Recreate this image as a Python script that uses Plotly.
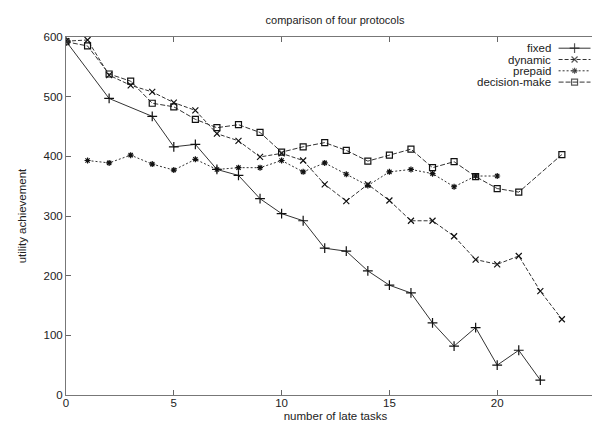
import plotly.graph_objects as go

# ---- data ----
fixed_x = [0, 2, 4, 5, 6, 7, 8, 9, 10, 11, 12, 13, 14, 15, 16, 17, 18, 19, 20, 21, 22]
fixed_y = [593, 497, 467, 416, 420, 378, 368, 329, 304, 292, 246, 241, 208, 184, 171, 121, 82, 113, 50, 75, 25]

dynamic_x = list(range(0, 24))
dynamic_y = [593, 595, 536, 519, 508, 490, 477, 438, 426, 399, 405, 393, 353, 325, 353, 326,
             292, 292, 266, 227, 219, 233, 174, 127]

prepaid_x = list(range(1, 21))
prepaid_y = [393, 389, 402, 387, 377, 395, 378, 381, 381, 393, 374, 389, 370, 351, 374, 378,
             371, 349, 367, 367]

decision_x = list(range(0, 22)) + [23]
decision_y = [592, 585, 538, 526, 489, 483, 462, 448, 453, 440, 407, 416, 423, 410, 392, 402,
              412, 381, 391, 366, 346, 340, 403]

series_names = ["fixed", "dynamic", "prepaid", "decision-make"]
x_ticks = [0, 5, 10, 15, 20, 25]
y_ticks = [0, 100, 200, 300, 400, 500, 600]

# ---- styles ----
FONT = "Liberation Sans, Arial, Helvetica, sans-serif"
FS = 11.5
TXT = "#222222"
LINE = "#333333"
styles = [
    dict(dash="solid", symbol="cross-thin-open", size=7),
    dict(dash="4px,2px", symbol="x-thin-open", size=6),
    dict(dash="2px,2px", symbol="asterisk-open", size=5),
    dict(dash="5px,2px", symbol="square-open", size=6),
]
data = [(fixed_x, fixed_y), (dynamic_x, dynamic_y), (prepaid_x, prepaid_y), (decision_x, decision_y)]

fig = go.Figure()
for (xs, ys), st, name in zip(data, styles, series_names):
    fig.add_trace(go.Scatter(
        x=xs, y=ys, mode="lines+markers", name=name, showlegend=False,
        line=dict(color=LINE, width=1, dash=st["dash"]),
        marker=dict(symbol=st["symbol"], size=st["size"], color="#111111",
                    line=dict(color="#111111", width=1.2)),
    ))

# ---- custom gnuplot-style legend (text right, sample to the right) on overlay axes ----
W, H = 600, 423
L, R, T, B = 57.5, 2.5, 29.3, 35.7
pw, ph = W - L - R, H - T - B
def px_to_x(px):
    return (px - L) / pw
def py_to_y(py):
    return (H - B - py) / ph

leg_rows = [40.5, 51.8, 63.1, 74.4]
text_right = 545.0
samp_l, samp_r = 551.0, 583.0
for name, st, py in zip(series_names, styles, leg_rows):
    fig.add_trace(go.Scatter(
        x=[px_to_x(samp_l), px_to_x((samp_l + samp_r) / 2), px_to_x(samp_r)],
        y=[py_to_y(py)] * 3, xaxis="x2", yaxis="y2", showlegend=False,
        mode="lines+markers", hoverinfo="skip",
        line=dict(color=LINE, width=1, dash=st["dash"]),
        marker=dict(symbol=st["symbol"], size=[0, st["size"], 0], color="#111111",
                    line=dict(color="#111111", width=1.2)),
    ))
    fig.add_annotation(x=px_to_x(text_right), y=py_to_y(py), xref="x2", yref="y2",
                       text=name, showarrow=False, xanchor="right", yanchor="middle",
                       font=dict(family=FONT, size=FS, color=TXT))

axis_common = dict(showgrid=False, zeroline=False, ticks="inside", ticklen=5,
                   tickcolor="#666666", showline=True, linecolor="#777777", linewidth=1,
                   mirror="allticks", tickfont=dict(family=FONT, size=FS, color=TXT))

fig.update_layout(
    width=W, height=H,
    margin=dict(l=L, r=R, t=T, b=B, pad=0),
    paper_bgcolor="white", plot_bgcolor="white",
    title=dict(text="comparison of four protocols", x=0.545, xanchor="center",
               y=1 - 12 / H, yanchor="middle", yref="container",
               font=dict(family=FONT, size=11, color=TXT)),
    xaxis=dict(range=[0, 25], tickvals=x_ticks, ticklabelstandoff=-3,
               title=dict(text="number of late tasks", standoff=4,
                          font=dict(family=FONT, size=FS, color=TXT)),
               **axis_common),
    yaxis=dict(range=[0, 600], tickvals=y_ticks,
               title=dict(text="utility achievement", standoff=14,
                          font=dict(family=FONT, size=FS, color=TXT)),
               **axis_common),
    xaxis2=dict(range=[0, 1], overlaying="x", visible=False),
    yaxis2=dict(range=[0, 1], overlaying="y", visible=False),
)

fig.write_html("out.html")
